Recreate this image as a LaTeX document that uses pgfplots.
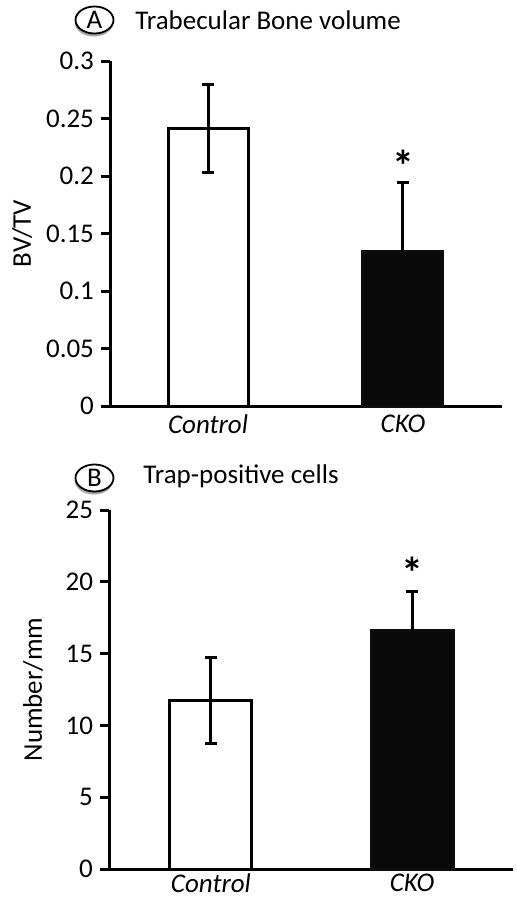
\documentclass[border=0pt]{standalone}
\usepackage{fontspec}
\setmainfont{Carlito}
\usepackage{pgfplots}
\pgfplotsset{compat=1.18}
\usetikzlibrary{shadows,shapes.geometric}

\pgfplotsset{
  panel/.style={
    scale only axis,
    axis lines*=left,
    axis line style={line width=1.5pt},
    x axis line style={shorten <=-3.5pt},
    ymin=0,
    xtick={0,1},
    xticklabels={\textit{Control},\textit{CKO}},
    xticklabel style={yshift=3.5pt},
    x tick style={draw=none},
    y tick style={line width=1.5pt, black},
    tick align=outside,
    major tick length=4.5pt,
    ybar,
    every tick label/.append style={font=\fontsize{13.5}{16}\selectfont},
    label style={font=\fontsize{13.5}{16}\selectfont},
    /pgf/number format/assume math mode=true,
    clip=false,
    error bars/error bar style={line width=1.5pt, black},
    error bars/error mark options={rotate=90, mark size=3pt, line width=1.5pt, black},
  },
}

\begin{document}
\begin{tikzpicture}
\path[use as bounding box] (0,0) rectangle (258.5pt,-450pt);

% Panel A header
\node[ellipse, draw, line width=0.9pt, fill=white, minimum width=19pt, minimum height=13.5pt, inner sep=0pt,
      drop shadow={shadow xshift=-0.3pt, shadow yshift=-1.5pt, opacity=0.7}]
      at (47.25pt,-10pt) {\fontsize{13.5}{16}\selectfont A};
\node[anchor=base west, inner sep=0pt] at (67.5pt,-14.5pt) {\fontsize{13.5}{16}\selectfont Trabecular Bone volume};

\begin{axis}[panel,
  at={(55pt,-203pt)}, anchor=south west,
  width=196pt, height=172.5pt,
  xmin=-0.503, xmax=1.508,
  ymax=0.3, ytick={0,0.05,...,0.3},
  bar width=40pt,
  ylabel={BV/TV},
  ylabel style={at={(axis description cs:-0.2245,0.5)}, anchor=center},
  yticklabel style={/pgf/number format/fixed},
]
\addplot[ybar, bar shift=0pt, draw=black, line width=1.5pt, fill=white,
  error bars/.cd, y dir=both, y explicit]
  coordinates {(0,0.2415) +- (0,0.0385)};
\addplot[ybar, bar shift=0pt, draw=black!95, line width=1.5pt, fill=black!96,
  error bars/.cd, y dir=plus, y explicit]
  coordinates {(1,0.1345) +- (0,0.0595)};
\node[anchor=base, inner sep=0pt] at (axis cs:1,0.195) {\fontsize{22}{24}\selectfont\bfseries *};
\end{axis}

% Panel B header
\node[ellipse, draw, line width=0.9pt, fill=white, minimum width=19pt, minimum height=13.5pt, inner sep=0pt,
      drop shadow={shadow xshift=-0.3pt, shadow yshift=-1.5pt, opacity=0.7}]
      at (47.25pt,-239pt) {\fontsize{13.5}{16}\selectfont B};
\node[anchor=base west, inner sep=0pt] at (71.5pt,-241.5pt) {\fontsize{13.5}{16}\selectfont Trap-positive cells};

\begin{axis}[panel,
  at={(54.5pt,-434.5pt)}, anchor=south west,
  width=202pt, height=179.5pt,
  xmin=-0.507, xmax=1.502,
  ymax=25, ytick={0,5,...,25},
  bar width=41pt,
  xticklabel style={yshift=2pt},
  ylabel={Number/mm},
  ylabel style={at={(axis description cs:-0.188,0.5)}, anchor=center},
]
\addplot[ybar, bar shift=0pt, draw=black, line width=1.5pt, fill=white,
  error bars/.cd, y dir=both, y explicit]
  coordinates {(0,11.75) +- (0,3.0)};
\addplot[ybar, bar shift=0pt, draw=black!95, line width=1.5pt, fill=black!96,
  error bars/.cd, y dir=plus, y explicit]
  coordinates {(1,16.58) +- (0,2.72)};
\node[anchor=base, inner sep=0pt] at (axis cs:1,19.5) {\fontsize{22}{24}\selectfont\bfseries *};
\end{axis}
\end{tikzpicture}
\end{document}
